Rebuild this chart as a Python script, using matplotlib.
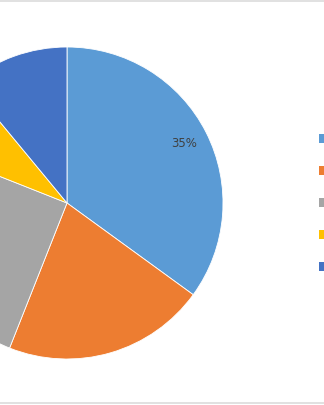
import matplotlib
matplotlib.use("Agg")
import matplotlib.pyplot as plt
from matplotlib.patches import Patch
from matplotlib.lines import Line2D

categories = ["1st Qtr", "2nd Qtr", "3rd Qtr", "4th Qtr", "5th Qtr"]
values = [35, 21, 25, 8, 11]
colors = ["#5B9BD5", "#ED7D31", "#A5A5A5", "#FFC000", "#4472C4"]
shown_labels = ["35%"]

W, H = 324, 405
fig = plt.figure(figsize=(W / 100, H / 100), dpi=100)
ax = fig.add_axes([0, 0, 1, 1])

def pct(p):
    s = f"{p:.0f}%"
    return s if s in shown_labels else ""

wedges, texts, autotexts = ax.pie(
    values, colors=colors, startangle=90, counterclock=False,
    center=(67, H - 203), radius=156, autopct=pct, pctdistance=0.84,
    wedgeprops=dict(edgecolor="white", linewidth=0.6),
    textprops=dict(color="#404040", fontsize=8.5),
)
ax.set_xlim(0, W)
ax.set_ylim(0, H)
ax.set_aspect("equal")
ax.axis("off")

handles = [Patch(facecolor=c, edgecolor="none") for c in colors]
fig.legend(handles, categories, loc="upper left",
           bbox_to_anchor=(319 / W, 1 - 133 / H), frameon=False,
           fontsize=9, handlelength=0.75, handleheight=0.75,
           labelspacing=1.52, borderpad=0, handletextpad=0.8,
           borderaxespad=0)

fig.add_artist(Line2D([0, 1], [1 - 0.5 / H, 1 - 0.5 / H], color="#dcdcdc", lw=1.2))
fig.add_artist(Line2D([0, 1], [2.5 / H, 2.5 / H], color="#dcdcdc", lw=1.2))

fig.savefig("out.png", dpi=100)
